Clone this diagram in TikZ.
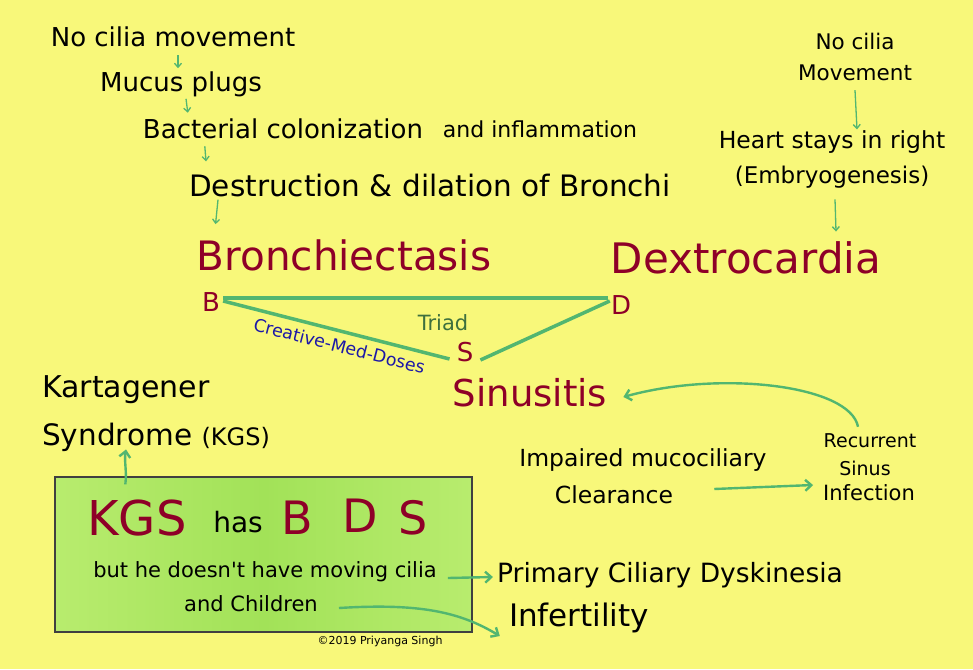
\documentclass[tikz,border=0pt]{standalone}
\usepackage{fontspec}
\setmainfont{DejaVu Sans}[Ligatures=TeXOff]
\usetikzlibrary{arrows.meta}

\definecolor{bgyellow}{RGB}{248,248,122}
\definecolor{darkred}{RGB}{142,0,40}
\definecolor{arrowgreen}{RGB}{82,182,112}
\definecolor{triadgreen}{RGB}{62,112,62}
\definecolor{dosesblue}{RGB}{28,24,168}
\definecolor{boxedge}{RGB}{184,236,110}
\definecolor{boxmid}{RGB}{162,226,88}

\newcommand{\fsz}[1]{\fontsize{#1}{#1}\selectfont}

\tikzset{
  txt/.style={inner sep=0pt, text=black},
  redtxt/.style={inner sep=0pt, text=darkred},
  thinarr/.style={-{Straight Barb[length=4pt,width=7pt]}, arrowgreen, line width=1.3pt},
  arr/.style={-{Straight Barb[length=6pt,width=11pt]}, arrowgreen, line width=2.4pt},
  triline/.style={arrowgreen, line width=3.5pt},
  greenbox/.style={draw=black!75, line width=1.3pt, left color=boxedge, right color=boxedge,
    middle color=boxmid, minimum width=417pt, minimum height=155pt, inner sep=0pt}
}

\begin{document}
\begin{tikzpicture}[x=1pt,y=-1pt]
  \fill[bgyellow] (0,0) rectangle (973,669);
  \useasboundingbox (0,0) rectangle (973,669);

  % chain on the left
  \node[txt, font=\fsz{26}]   (nocilia)  at (173,37)  {No cilia movement};
  \node[txt, font=\fsz{26}]   (mucus)    at (181,84)  {Mucus plugs};
  \node[txt, font=\fsz{26}]   (bacteria) at (283,129) {Bacterial colonization};
  \node[txt, font=\fsz{22}]   (inflam)   at (540,129) {and inflammation};
  \node[txt, font=\fsz{29.5}] (destruct) at (430,185) {Destruction \& dilation of Bronchi};

  % chain on the right
  \node[txt, font=\fsz{21.5}] (nocil2)   at (855,41)  {No cilia};
  \node[txt, font=\fsz{21.5}] (movement) at (855,73)  {Movement};
  \node[txt, font=\fsz{23.5}] (heart)    at (832,142) {Heart stays in right};
  \node[txt, font=\fsz{23}]   (embryo)   at (832,177) {(Embryogenesis)};

  % the triad
  \node[redtxt, font=\fsz{40.5}] (bronchi) at (344,255) {Bronchiectasis};
  \node[redtxt, font=\fsz{42}] (dextro)  at (746,258) {Dextrocardia};
  \node[redtxt, font=\fsz{26}] (B) at (211,302) {B};
  \node[redtxt, font=\fsz{26}] (D) at (621,305) {D};
  \node[redtxt, font=\fsz{26}] (S) at (465,352) {S};
  \node[inner sep=0pt, text=triadgreen, font=\fsz{21}] (triad) at (443,323) {Triad};
  \node[redtxt, font=\fsz{37}] (sinus) at (530,393) {Sinusitis};

  \draw[triline] ([shift={(3,-4)}]B.east) -- ([shift={(-3,-7)}]D.west);
  \draw[triline] ([shift={(3,-1)}]B.east) -- node[pos=0.53, below=6pt, sloped, inner sep=0pt,
      text=dosesblue, font=\fsz{17.5}] {Creative-Med-Doses} ([shift={(-7,7)}]S.west);
  \draw[triline] ([shift={(7,8)}]S.east) -- ([shift={(-1,-4)}]D.west);

  % recurrent infection
  \node[txt, font=\fsz{19}] (recur)   at (870,441) {Recurrent};
  \node[txt, font=\fsz{19}] (sinus2)  at (865,468) {Sinus};
  \node[txt, font=\fsz{21}] (infect)  at (869,493) {Infection};
  \node[txt, font=\fsz{23.5}] (impair) at (643,460) {Impaired mucociliary};
  \node[txt, font=\fsz{23.5}] (clear)  at (614,495) {Clearance};

  % Kartagener
  \node[txt, font=\fsz{30}] (karta) at (126,390) {Kartagener};
  \node[txt, font=\fsz{29.5}, anchor=west] (syndr) at (42,437) {Syndrome {\fsz{24}(KGS)}};

  \node[greenbox] (kgsbox) at (263.5,554.5) {};
  \node[redtxt, font=\fsz{48}] (kgs) at (137,518) {KGS};
  \node[txt, font=\fsz{28}]    (has) at (238,522) {has};
  \node[redtxt, font=\fsz{46}] (bb)  at (297,518) {B};
  \node[redtxt, font=\fsz{46}] (dd)  at (360,516) {D};
  \node[redtxt, font=\fsz{46}] (ss)  at (413,518) {S};
  \node[txt, font=\fsz{21}] (cilia)    at (265,572) {but he doesn't have moving cilia};
  \node[txt, font=\fsz{21}] (children) at (251,604) {and Children};

  \node[txt, font=\fsz{26.5}] (pcd)   at (670,575) {Primary Ciliary Dyskinesia};
  \node[txt, font=\fsz{31}]   (infert) at (579,618) {Infertility};
  \node[txt, font=\fsz{11}]   (copy)  at (380,641) {©2019 Priyanga Singh};

  % arrows
  \draw[thinarr] ([shift={(5,8)}]nocilia.south) -- ([shift={(-3,-3)}]mucus.north);
  \draw[thinarr] ([shift={(5,2)}]mucus.south) -- ([shift={(45,-6)}]bacteria.north west);
  \draw[thinarr] ([shift={(62,7)}]bacteria.south west) -- ([shift={(17,-12)}]destruct.north west);
  \draw[thinarr] ([shift={(29,3)}]destruct.south west) -- ([shift={(19,-15)}]bronchi.north west);
  \draw[thinarr] ([shift={(0,9)}]movement.south) -- ([shift={(25,-1)}]heart.north);
  \draw[thinarr] ([shift={(3,11)}]embryo.south) -- ([shift={(90,-10)}]dextro.north);

  \draw[arr] ([shift={(-12,-7)}]recur.north) .. controls (850,385) and (720,370) .. ([shift={(16,4)}]sinus.east);
  \draw[arr] ([shift={(41,-6)}]clear.east) -- ([shift={(-10,-8)}]infect.west);
  \draw[arr] ([shift={(71,8)}]kgsbox.north west) .. controls (127,470) and (124,462) .. ([shift={(84,-2)}]syndr.south west);
  \draw[arr] ([shift={(11,6)}]cilia.east) -- ([shift={(-4,2)}]pcd.west);
  \draw[arr] ([shift={(21,4)}]children.east) .. controls (420,603) and (460,612) .. ([shift={(-9,18)}]infert.west);
\end{tikzpicture}
\end{document}
